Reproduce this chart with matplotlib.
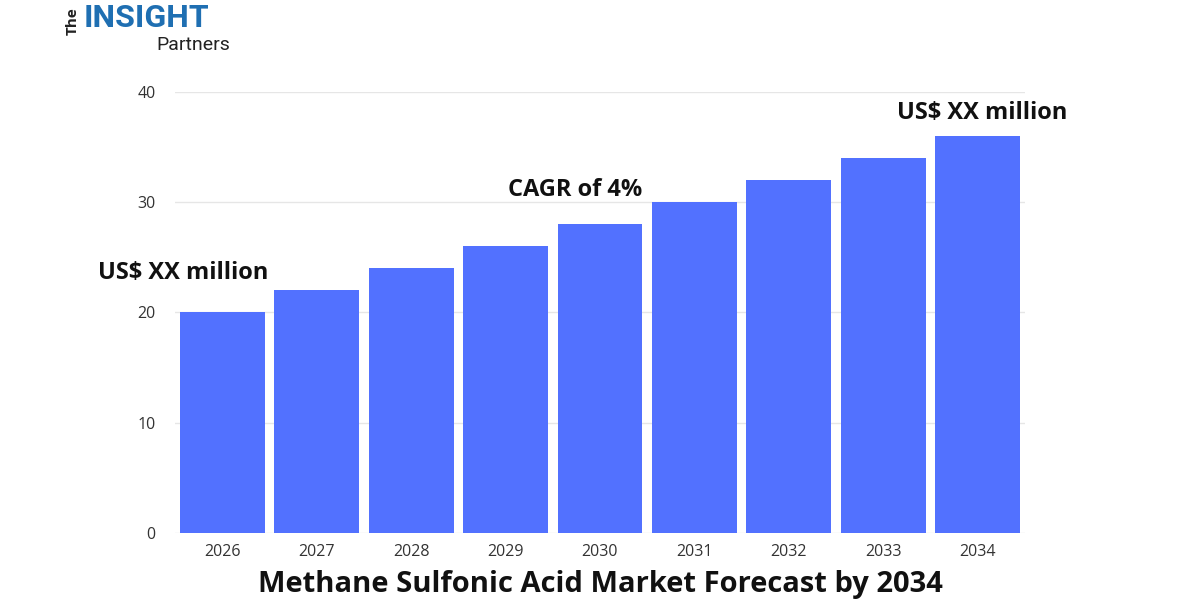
import matplotlib
matplotlib.use("Agg")
import matplotlib.pyplot as plt

years = ["2026","2027","2028","2029","2030","2031","2032","2033","2034"]
values = [20, 22, 24, 26, 28, 30, 32, 34, 36]
yticks = [0, 10, 20, 30, 40]

plt.rcParams['font.family'] = ['Open Sans', 'DejaVu Sans']
fig = plt.figure(figsize=(12, 6), dpi=100)
ax = fig.add_axes([0.146, 0.1117, 0.708, 0.735])
x = range(len(years))
ax.bar(x, values, width=0.9, color="#5271FF", zorder=3)
ax.set_xlim(-0.5, len(years) - 0.5)
ax.set_ylim(0, 40)
ax.set_yticks(yticks)
ax.set_xticks(list(x))
ax.set_xticklabels(years)
ax.grid(axis='y', color="#e6e6e6", linewidth=1, zorder=0)
for s in ax.spines.values():
    s.set_visible(False)
ax.tick_params(length=0, labelsize=11.5, colors="#333333", pad=8)
ax.tick_params(axis='y', pad=14)

ax.text(-0.42, values[0] + 2.5, "US$ XX million", ha='center', va='bottom', fontsize=17, fontweight='bold', color="#111111")
ax.text(4.45, values[4] + 2.0, "CAGR of 4%", ha='right', va='bottom', fontsize=17, fontweight='bold', color="#111111")
ax.text(8.05, values[8] + 1.0, "US$ XX million", ha='center', va='bottom', fontsize=17, fontweight='bold', color="#111111")

fig.text(0.5, 0.002, "Methane Sulfonic Acid Market Forecast by 2034", ha='center', va='bottom',
         fontsize=21, fontweight='bold', color="#111111")

# logo
fig.text(0.07, 0.995, "INSIGHT", ha='left', va='top', fontsize=23, fontweight='bold', color="#1f6fb2", family=['Roboto'])
fig.text(0.061, 0.965, "The", ha='center', va='center', fontsize=11, fontweight='bold', rotation=90, color="#222222")
fig.text(0.13, 0.925, "Partners", ha='left', va='center', fontsize=14, color="#222222", family=['Roboto'])

fig.savefig("out.png", dpi=100)
